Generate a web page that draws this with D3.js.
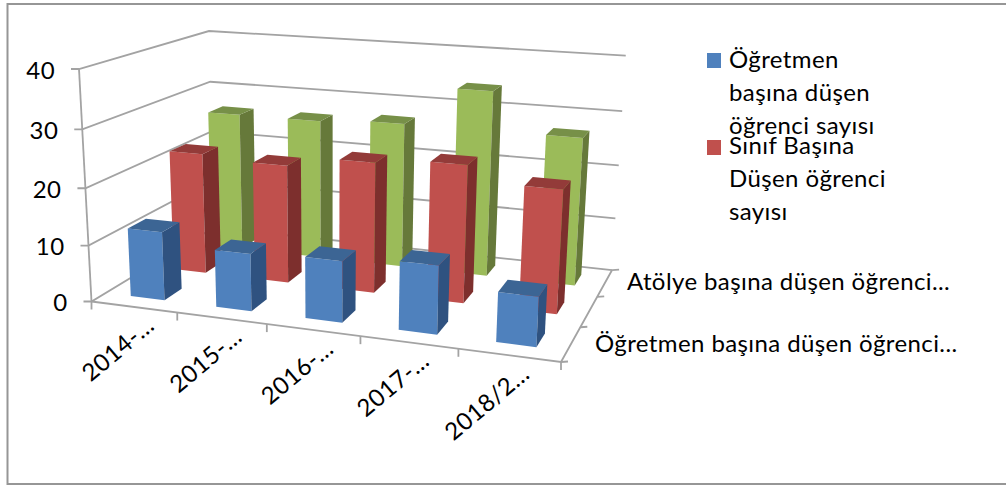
<!DOCTYPE html>
<html>
<head>
<meta charset="utf-8">
<script src="https://cdn.jsdelivr.net/npm/d3@7"></script>
<style>
  html, body { margin: 0; padding: 0; background: white; }
  svg { display: block; }
  text { font-family: Lato, "Open Sans", sans-serif; fill: black; font-size: 24px; letter-spacing: 0.4px; }
</style>
</head>
<body>
<div id="chart"></div>
<script>
const years = ['2014-…', '2015-…', '2016-…', '2017-…', '2018/2…'];
const seriesNames = ['Öğretmen başına düşen öğrenci sayısı', 'Sınıf Başına Düşen öğrenci sayısı', 'Atölye başına düşen öğrenci sayısı'];
const ogretmen = [12.2, 10.1, 10.6, 11.7, 8.4];
const sinif = [22.2, 21.5, 23.4, 24.4, 21.7];
const atolye = [26.3, 26.3, 27, 34.1, 27];
const valueTicks = [0, 10, 20, 30, 40];
const depthLabels = ['Öğretmen başına düşen öğrenci...', '', 'Atölye başına düşen öğrenci...'];
const legendLines = [['Öğretmen', 'başına düşen', 'öğrenci sayısı'], ['Sınıf Başına', 'Düşen öğrenci', 'sayısı']];

const allSeries = [ogretmen, sinif, atolye];
const front = ['#4f81bd', '#c0504d', '#9bbb59'];
const side = ['#2f5280', '#7d2f2d', '#66793a'];
const top_ = ['#3c6594', '#933b39', '#779048'];

const svg = d3.select('#chart').append('svg').attr('width', 1006).attr('height', 485);

// frame
svg.append('path').attr('d', 'M1006,4H7.5V484H1006').attr('fill', 'none').attr('stroke', '#969696').attr('stroke-width', 2);

// unit cube -> picture, 3 point perspective from four corners and weights
const O = [91.5, 301.5], U = [561, 362], W = [214, 227.5], V = [79, 69];
const wu = 0.894, ww = 1.193, wv = 0.95;
const project = (u, w, v) => {
  const den = 1 + (wu - 1) * u + (ww - 1) * w + (wv - 1) * v;
  return [0, 1].map(i => (O[i] + (wu * U[i] - O[i]) * u + (ww * W[i] - O[i]) * w + (wv * V[i] - O[i]) * v) / den);
};

const xScale = d3.scaleBand().domain(years).range([0, 1]).paddingInner(0.6).paddingOuter(0.3);
const zScale = d3.scaleBand().domain(seriesNames).range([0, 1]).paddingInner(0.6).paddingOuter(0.3);
const vScale = d3.scaleLinear().domain([0, 40]).range([0, 1]);
const poly = pts => 'M' + pts.map(p => p.join(',')).join('L') + 'Z';
const line = pts => 'M' + pts.map(p => p.join(',')).join('L');

const grid = svg.append('g').attr('fill', 'none').attr('stroke', '#a3a3a3').attr('stroke-width', 1.8);

valueTicks.forEach(t => {
  const v = vScale(t);
  const a = project(0, 0, v);
  grid.append('path').attr('d', line([[a[0] - 8, a[1]], a, project(0, 1, v), project(1, 1, v)]));
  svg.append('text').attr('x', a[0] - 24).attr('y', a[1] + 9.5).attr('text-anchor', 'end').text(t);
});
grid.append('path').attr('d', line([project(0, 0, 1), O]));
grid.append('path').attr('d', line([O, U, project(1, 1, 0)]));

// category ticks
d3.range(0, years.length + 1).forEach(i => {
  const p = project(i / years.length, 0, 0);
  grid.append('path').attr('d', line([p, [p[0], p[1] + 8]]));
});
// series ticks
d3.range(0, seriesNames.length + 1).forEach(i => {
  const p = project(1, i / seriesNames.length, 0);
  grid.append('path').attr('d', line([p, [p[0] + 7, p[1] - 0.5]]));
});

// bars, back row first
const bars = svg.append('g');
d3.range(seriesNames.length - 1, -1, -1).forEach(s => {
  years.forEach((y, i) => {
    const u0 = xScale(y), u1 = u0 + xScale.bandwidth();
    const w0 = zScale(seriesNames[s]), w1 = w0 + zScale.bandwidth();
    const v = vScale(allSeries[s][i]);
    const g = bars.append('g');
    g.append('path').attr('fill', front[s]).attr('d', poly([project(u0, w0, 0), project(u1, w0, 0), project(u1, w0, v), project(u0, w0, v)]));
    g.append('path').attr('fill', side[s]).attr('d', poly([project(u1, w0, 0), project(u1, w1, 0), project(u1, w1, v), project(u1, w0, v)]));
    g.append('path').attr('fill', top_[s]).attr('d', poly([project(u0, w0, v), project(u1, w0, v), project(u1, w1, v), project(u0, w1, v)]));
  });
});

// category labels
years.forEach(y => {
  const p = project(xScale(y) + xScale.bandwidth() / 2, 0, 0);
  svg.append('text')
    .attr('transform', `translate(${p[0] + 22},${p[1] + 21}) rotate(-40)`)
    .attr('text-anchor', 'end').text(y);
});

// series labels
const depthPos = [[595, 352], null, [627, 290]];
depthLabels.forEach((t, i) => {
  if (!t) return;
  svg.append('text').attr('x', depthPos[i][0]).attr('y', depthPos[i][1]).text(t);
});

// legend
const legendTop = [53, 140];
const legendBase = [68, 154];
legendLines.forEach((lines, i) => {
  svg.append('rect').attr('x', 707).attr('y', legendTop[i]).attr('width', 14).attr('height', 15).attr('fill', front[i]);
  lines.forEach((t, j) => {
    svg.append('text').attr('x', 729).attr('y', legendBase[i] + j * 33).text(t);
  });
});
</script>
</body>
</html>
